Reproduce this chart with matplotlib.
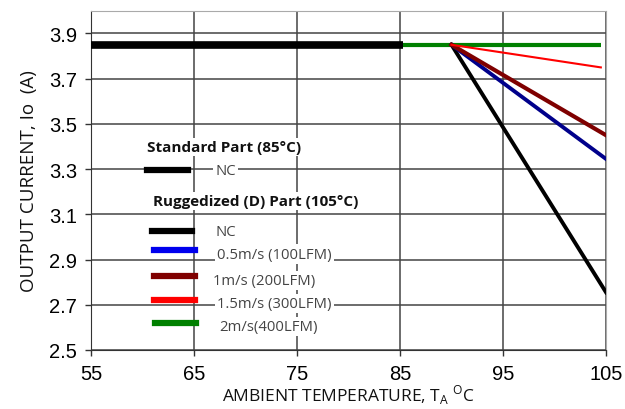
import matplotlib
matplotlib.use("Agg")
import matplotlib.pyplot as plt
from matplotlib.lines import Line2D

# derating curves
std_temp = [55, 85.3]
std_curr = [3.85, 3.85]

rug_temp = [55, 90, 105]
nc_curr = [3.85, 3.85, 2.755]
ms05_temp = [90, 105]
ms05_curr = [3.85, 3.345]
ms1_temp = [90, 105]
ms1_curr = [3.85, 3.45]
ms15_temp = [90, 104.5]
ms15_curr = [3.85, 3.75]
ms2_temp = [85, 104.5]
ms2_curr = [3.85, 3.85]

x_ticks = [55, 65, 75, 85, 95, 105]
y_ticks = [2.5, 2.7, 2.9, 3.1, 3.3, 3.5, 3.7, 3.9]

legend_labels = ["NC", "0.5m/s (100LFM)", "1m/s (200LFM)", "1.5m/s (300LFM)", "2m/s(400LFM)"]
legend_colors = ["black", "#0000ee", "#7f0000", "red", "green"]

fig = plt.figure(figsize=(6.25, 4.1), dpi=100)
ax = fig.add_axes([0.1456, 0.144, 0.824, 0.827])

ax.set_xlim(55, 105)
ax.set_ylim(2.5, 4.0)
ax.set_xticks(x_ticks)
ax.set_yticks(y_ticks)
ax.tick_params(labelsize=14.5, length=4, width=1, color="#333333")
ax.tick_params(axis="x", pad=6)
ax.tick_params(axis="y", pad=6)
for lab in ax.get_xticklabels() + ax.get_yticklabels():
    lab.set_family("Liberation Sans")

ax.grid(True, color="#444444", linewidth=1.1, zorder=0)
for s in ["top", "right"]:
    ax.spines[s].set_color("#aaaaaa")
for s in ["left", "bottom"]:
    ax.spines[s].set_color("#333333")

# curves (only the visible part of NC ruggedized shown after 90)
ax.plot(ms2_temp, ms2_curr, color="green", lw=3, zorder=3, solid_capstyle="butt")
ax.plot(std_temp, std_curr, color="black", lw=5.5, zorder=4, solid_capstyle="butt")
ax.plot(rug_temp[1:], nc_curr[1:], color="black", lw=2.8, zorder=3)
ax.plot(ms05_temp, ms05_curr, color="#00008b", lw=2.8, zorder=3)
ax.plot(ms1_temp, ms1_curr, color="#7f0000", lw=3, zorder=3)
ax.plot(ms15_temp, ms15_curr, color="red", lw=1.5, zorder=3)

# hand-placed legend like the original figure
bbox_w = dict(facecolor="white", edgecolor="none", pad=1.5)
hfont = dict(family="Open Sans", fontweight="bold", fontsize=11, color="#111111")
lfont = dict(family="Open Sans", fontsize=10.7, color="#444444")

ax.text(0.109, 0.599, "Standard Part (85\u00b0C)", transform=ax.transAxes,
        va="center", ha="left", bbox=bbox_w, zorder=5, **hfont)
ax.add_line(Line2D([0.109, 0.188], [0.531, 0.531], transform=ax.transAxes,
                   color="black", lw=4.5, zorder=6))
ax.text(0.241, 0.528, "NC", transform=ax.transAxes, va="center", ha="left",
        bbox=bbox_w, zorder=5, **lfont)

ax.text(0.120, 0.440, "Ruggedized (D) Part (105\u00b0C)", transform=ax.transAxes,
        va="center", ha="left", bbox=bbox_w, zorder=5, **hfont)

key_y = [0.351, 0.295, 0.218, 0.147, 0.080]
key_x0 = [0.118, 0.123, 0.123, 0.123, 0.125]
txt_y = [0.348, 0.283, 0.206, 0.136, 0.068]
txt_x = [0.241, 0.245, 0.237, 0.245, 0.249]
for lab, col, ky, kx, ty, tx in zip(legend_labels, legend_colors, key_y, key_x0, txt_y, txt_x):
    ax.add_line(Line2D([kx, kx + 0.078], [ky, ky], transform=ax.transAxes,
                       color=col, lw=4.5, zorder=6))
    ax.text(tx, ty, lab, transform=ax.transAxes, va="center", ha="left",
            bbox=bbox_w, zorder=5, **lfont)

ax.set_xlabel("AMBIENT TEMPERATURE, T$_\\mathregular{A}$ $^\\mathregular{O}$C",
              family="Open Sans", fontsize=12.5, color="#111111", labelpad=0)
ax.set_ylabel("OUTPUT CURRENT, Io  (A)", family="Open Sans", fontsize=13.5,
              color="#111111", labelpad=8)

fig.savefig("out.png", dpi=100)
